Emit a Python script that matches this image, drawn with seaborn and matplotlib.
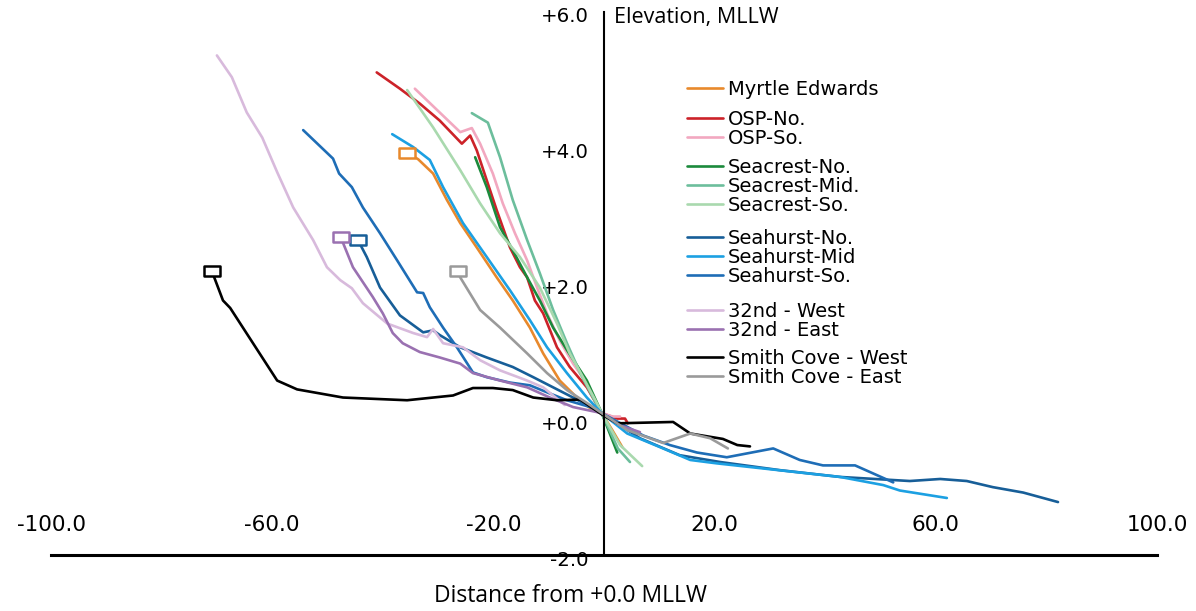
import matplotlib
matplotlib.use("Agg")
import matplotlib.pyplot as plt
from matplotlib.path import Path
from matplotlib.lines import Line2D
from matplotlib.legend import Legend
from matplotlib.transforms import ScaledTranslation
import pandas as pd
import seaborn as sns

# ---- beach profiles: distance from +0.0 MLLW (ft) vs elevation (ft, MLLW) ----
myrtle_x = [-35.6, -33.6, -30.9, -28.4, -26.0, -23.0, -19.4, -16.5, -13.4, -11.0, -8.0, -4.9, -2.0, -0.4, 1.5, 3.3]
myrtle_y = [3.93, 3.83, 3.62, 3.23, 2.89, 2.53, 2.09, 1.75, 1.35, 0.97, 0.57, 0.32, 0.13, 0.09, -0.16, -0.41]

osp_no_x = [-41.1, -36.9, -33.3, -29.7, -25.7, -24.2, -23.0, -21.2, -19.4, -17.0, -15.2, -13.9, -12.5, -11.0, -8.5, -6.2, -3.1, -0.4, 2.4, 3.8, 4.3]
osp_no_y = [5.11, 4.87, 4.65, 4.40, 4.06, 4.18, 3.96, 3.52, 3.08, 2.53, 2.24, 2.09, 1.75, 1.56, 1.06, 0.77, 0.47, 0.09, 0.01, 0.01, -0.06]

osp_so_x = [-34.2, -26.0, -23.9, -22.4, -20.1, -18.3, -16.1, -13.9, -12.1, -10.3, -8.0, -5.6, -3.1, -0.4, 1.6, 2.9]
osp_so_y = [4.87, 4.23, 4.29, 4.06, 3.62, 3.18, 2.74, 2.34, 1.94, 1.56, 1.16, 0.82, 0.53, 0.09, 0.04, 0.04]

seacrest_no_x = [-23.3, -21.2, -18.8, -16.5, -13.9, -11.6, -9.2, -6.7, -3.1, -0.4, 2.4]
seacrest_no_y = [3.86, 3.42, 2.83, 2.49, 2.09, 1.75, 1.35, 1.02, 0.57, 0.09, -0.49]

seacrest_mid_x = [-23.9, -21.0, -18.8, -16.5, -13.9, -11.6, -9.2, -6.7, -4.3, -2.0, -0.4, 2.5, 4.7]
seacrest_mid_y = [4.51, 4.37, 3.86, 3.23, 2.64, 2.15, 1.61, 1.12, 0.68, 0.32, 0.09, -0.43, -0.63]

seacrest_so_x = [-35.6, -30.9, -26.0, -22.4, -18.8, -15.2, -11.6, -8.5, -6.2, -3.8, -1.3, -0.4, 2.9, 6.9]
seacrest_so_y = [4.85, 4.30, 3.67, 3.18, 2.74, 2.39, 1.94, 1.41, 0.97, 0.62, 0.24, 0.09, -0.38, -0.69]

seahurst_no_x = [-44.5, -42.9, -40.5, -36.9, -32.7, -30.9, -29.7, -26.0, -21.2, -16.5, -12.8, -9.2, -5.6, -0.4,
                 6.5, 13.7, 21.0, 31.8, 42.7, 55.3, 60.8, 65.6, 70.3, 75.8, 82.1]
seahurst_no_y = [2.64, 2.39, 1.94, 1.53, 1.28, 1.31, 1.24, 1.06, 0.91, 0.77, 0.62, 0.47, 0.32, 0.09,
                 -0.28, -0.53, -0.63, -0.75, -0.85, -0.91, -0.88, -0.91, -1.00, -1.08, -1.22]

seahurst_mid_x = [-38.3, -34.5, -31.5, -29.1, -25.5, -21.2, -17.0, -13.4, -10.3, -6.7, -3.1, -0.4,
                  4.2, 10.1, 15.6, 20.4, 28.2, 42.7, 50.5, 53.5, 62.0]
seahurst_mid_y = [4.20, 4.01, 3.82, 3.42, 2.89, 2.39, 1.90, 1.46, 1.06, 0.68, 0.32, 0.09,
                  -0.21, -0.41, -0.60, -0.65, -0.72, -0.85, -0.97, -1.05, -1.16]

seahurst_so_x = [-54.4, -49.0, -47.9, -45.6, -43.6, -40.5, -37.4, -33.8, -32.7, -31.5, -29.1, -26.6, -23.7, -21.2,
                 -17.0, -13.4, -9.8, -6.7, -2.5, -0.4, 7.1, 11.9, 16.8, 22.2, 30.6, 35.4, 39.6, 45.4, 52.3]
seahurst_so_y = [4.26, 3.84, 3.62, 3.42, 3.12, 2.74, 2.34, 1.87, 1.86, 1.65, 1.35, 1.06, 0.69, 0.62,
                 0.54, 0.50, 0.38, 0.28, 0.18, 0.09, -0.24, -0.38, -0.49, -0.56, -0.43, -0.60, -0.68, -0.68, -0.93]

west32_x = [-70.0, -67.3, -64.6, -61.8, -59.1, -56.2, -52.6, -50.1, -47.7, -45.6, -43.6, -39.2, -34.5, -32.0,
            -30.9, -29.1, -25.5, -22.4, -18.8, -13.9, -11.0, -7.1]
west32_y = [5.36, 5.04, 4.52, 4.15, 3.64, 3.12, 2.64, 2.24, 2.05, 1.93, 1.71, 1.41, 1.27, 1.21,
            1.33, 1.12, 1.06, 0.87, 0.72, 0.57, 0.47, 0.21]

east32_x = [-47.6, -45.4, -41.8, -40.0, -38.2, -36.4, -33.3, -29.7, -26.0, -23.7, -18.8, -13.9, -9.8, -5.6, -0.4, 2.9, 6.5]
east32_y = [2.68, 2.24, 1.80, 1.56, 1.27, 1.12, 0.99, 0.91, 0.82, 0.68, 0.57, 0.47, 0.32, 0.18, 0.09, -0.09, -0.19]

smith_w_x = [-70.9, -68.9, -67.6, -59.1, -55.5, -47.2, -35.6, -30.9, -27.3, -23.7, -20.1, -16.5, -12.8, -8.5,
             -4.3, -0.2, 2.4, 12.5, 15.6, 21.5, 24.1, 26.4]
smith_w_y = [2.18, 1.75, 1.64, 0.57, 0.44, 0.32, 0.28, 0.32, 0.35, 0.46, 0.46, 0.43, 0.32, 0.28,
             0.29, 0.06, -0.06, -0.04, -0.21, -0.29, -0.38, -0.40]

smith_e_x = [-26.4, -26.0, -22.4, -18.8, -13.9, -10.3, -6.7, -3.1, -0.4, 4.2, 10.7, 15.6, 19.2, 22.4]
smith_e_y = [2.18, 2.09, 1.61, 1.35, 0.97, 0.68, 0.43, 0.24, 0.09, -0.16, -0.35, -0.21, -0.28, -0.43]

profile_names = ["Myrtle Edwards", "OSP-No.", "OSP-So.", "Seacrest-No.", "Seacrest-Mid.", "Seacrest-So.",
                 "Seahurst-No.", "Seahurst-Mid", "Seahurst-So.", "32nd - West", "32nd - East",
                 "Smith Cove - West", "Smith Cove - East"]
profile_x = [myrtle_x, osp_no_x, osp_so_x, seacrest_no_x, seacrest_mid_x, seacrest_so_x,
             seahurst_no_x, seahurst_mid_x, seahurst_so_x, west32_x, east32_x, smith_w_x, smith_e_x]
profile_y = [myrtle_y, osp_no_y, osp_so_y, seacrest_no_y, seacrest_mid_y, seacrest_so_y,
             seahurst_no_y, seahurst_mid_y, seahurst_so_y, west32_y, east32_y, smith_w_y, smith_e_y]
# profiles whose landward end is flagged with an open box
boxed_profiles = ["Myrtle Edwards", "Seahurst-No.", "32nd - East", "Smith Cove - West", "Smith Cove - East"]

profile_colors = ["#E8892C", "#CC2229", "#F2A8C0", "#1B8A3B", "#6CBE9C", "#A9D9AE",
                  "#175E98", "#1CA0E2", "#1E6DB6", "#D8BADC", "#9A71B1", "#000000", "#9A9A9A"]
legend_groups = [[0], [1, 2], [3, 4, 5], [6, 7, 8], [9, 10], [11, 12]]

x_ticks = [-100, -60, -20, 20, 60, 100]
x_tick_labels = ["-100.0", "-60.0", "-20.0", "20.0", "60.0", "100.0"]
y_ticks = [-2, 0, 2, 4, 6]
y_tick_labels = ["-2.0", "+0.0", "+2.0", "+4.0", "+6.0"]

# ---- styling ----
sns.set_style("white")
plt.rcParams["font.family"] = ["DejaVu Sans"]
plt.rcParams.update({"text.color": "black", "axes.labelcolor": "black",
                     "xtick.labelcolor": "black", "ytick.labelcolor": "black"})
title_font = ["Open Sans", "DejaVu Sans"]

W, H, DPI = 1196, 611, 100
fig = plt.figure(figsize=(W / DPI, H / DPI), dpi=DPI)
ax = fig.add_axes([51 / W, 1 - 555 / H, (1157 - 51) / W, (555 - 12) / H])

box_marker = Path([(-1.5, -1.0), (1.5, -1.0), (1.5, 1.0), (-1.5, 1.0), (-1.5, -1.0)],
                  [Path.MOVETO, Path.LINETO, Path.LINETO, Path.LINETO, Path.CLOSEPOLY])

frames = []
for name, xs, ys in zip(profile_names, profile_x, profile_y):
    frames.append(pd.DataFrame({"distance": xs, "elevation": ys, "profile": name}))
profiles = pd.concat(frames, ignore_index=True)

LW = 1.9
for name, color in zip(profile_names, profile_colors):
    sub = profiles[profiles["profile"] == name]
    sns.lineplot(data=sub, x="distance", y="elevation", sort=False, estimator=None,
                 color=color, lw=LW, ax=ax, legend=False)
    if name in boxed_profiles:
        first = sub.iloc[:1]
        ax.plot(first["distance"], first["elevation"], linestyle="none", marker=box_marker,
                markersize=11, markerfacecolor="white", markeredgecolor=color, markeredgewidth=1.8,
                zorder=5)

ax.set_xlim(-100, 100)
ax.set_ylim(-2, 6)

# axes crossing at distance 0, floor at -2
for side in ["top", "right"]:
    ax.spines[side].set_visible(False)
ax.spines["left"].set_position(("data", 0))
ax.spines["left"].set_linewidth(1.5)
ax.spines["bottom"].set_linewidth(2.2)
for side in ["left", "bottom"]:
    ax.spines[side].set_color("black")

ax.set_xticks(x_ticks)
ax.set_xticklabels(x_tick_labels)
ax.set_yticks(y_ticks)
ax.set_yticklabels(y_tick_labels)
ax.tick_params(axis="x", direction="in", length=3.6, width=1.0, color="#555555",
               pad=-28.8, labelsize=15.5, labelcolor="black")
ax.tick_params(axis="y", direction="out", length=5, width=1.0, color="#555555",
               pad=6, labelsize=14.2, labelcolor="black")
ax.grid(False)

shift_down = ScaledTranslation(0, -3 / DPI, fig.dpi_scale_trans)
for tick in ax.yaxis.get_major_ticks():
    tick.label1.set_transform(tick.label1.get_transform() + shift_down)

ax.set_xlabel("Distance from +0.0 MLLW", fontsize=16.5, family=title_font, color="black")
ax.xaxis.label.set_va("center")
ax.xaxis.set_label_coords((570 - 51) / (1157 - 51), (555 - 596) / (555 - 12))

ax.set_ylabel("Elevation, MLLW", fontsize=15.5, family=title_font, rotation=0,
              ha="left", va="center", color="black")
ax.yaxis.set_label_coords((614 - 51) / (1157 - 51), (555 - 18) / (555 - 12))

# grouped legend blocks
group_tops = [80, 110, 158, 229, 302, 349]
for grp, top in zip(legend_groups, group_tops):
    handles = [Line2D([], [], color=profile_colors[i], lw=LW) for i in grp]
    labels = [profile_names[i] for i in grp]
    leg = Legend(ax, handles, labels, loc="upper left", bbox_to_anchor=(687 / W, 1 - top / H),
                 bbox_transform=fig.transFigure, frameon=False, borderpad=0, borderaxespad=0,
                 handlelength=1.85, handletextpad=0.25, labelspacing=0.0, fontsize=14)
    ax.add_artist(leg)

fig.savefig("out.png", dpi=DPI)
